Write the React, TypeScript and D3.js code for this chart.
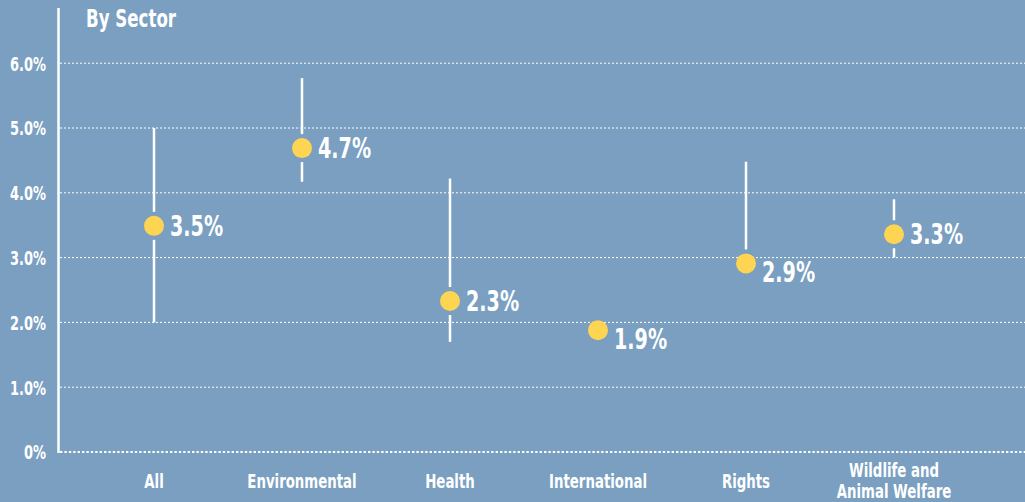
import React from "react";
import * as d3 from "d3";

const categories = ["All", "Environmental", "Health", "International", "Rights", "Wildlife and|Animal Welfare"];
const values = [3.49, 4.69, 2.33, 1.88, 2.91, 3.36];
const valueLabels = ["3.5%", "4.7%", "2.3%", "1.9%", "2.9%", "3.3%"];
const lows: (number | null)[] = [2.0, 4.17, 1.7, null, 2.91, 3.0];
const highs: (number | null)[] = [5.0, 5.77, 4.22, null, 4.48, 3.9];
const labelBelow = [false, false, false, true, true, false];
const yTicks = [0, 1, 2, 3, 4, 5, 6];

const W = 1025, H = 502;
const BG = "#7a9fc1";
const DOT = "#fed553";
const FONT = "'DejaVu Sans Condensed', 'Liberation Sans Narrow', sans-serif";

const sx = (x0: number, s: number) => `translate(${x0},0) scale(${s},1) translate(${-x0},0)`;

export default function App() {
  const x = d3.scaleBand<number>().domain(d3.range(categories.length)).range([80, 968]);
  const y = d3.scaleLinear().domain([0, 6]).range([452, 63.2]);
  const cx = (i: number) => (x(i) as number) + x.bandwidth() / 2;
  const r = 10;
  const gap = 14;

  return (
    <svg width={W} height={H} style={{ position: "absolute", left: 0, top: 0, display: "block" }} fontFamily={FONT}>
      <rect x={0} y={0} width={W} height={H} fill={BG} />
      <text x={86} y={27.5} fill="#fff" fontSize={25} fontWeight="bold" transform={sx(86, 0.74)}>By Sector</text>
      {yTicks.map((t) => (
        <g key={t}>
          {t > 0 ? (
            <line x1={60} x2={W} y1={y(t)} y2={y(t)} stroke="#fff" strokeWidth={1} strokeDasharray="2,2" />
          ) : (
            <line x1={60} x2={W} y1={y(t)} y2={y(t)} stroke="#fff" strokeWidth={2.2} strokeDasharray="2.4,2" />
          )}
          <text x={46} y={y(t) + 7.5} fill="#fff" fontSize={19.5} fontWeight="bold" textAnchor="end"
            transform={sx(46, 0.74)}>
            {t === 0 ? "0%" : `${t.toFixed(1)}%`}
          </text>
        </g>
      ))}
      <line x1={58.5} x2={58.5} y1={8} y2={453} stroke="#fff" strokeWidth={2.5} />
      {categories.map((c, i) => {
        const lo = lows[i], hi = highs[i];
        const vy = y(values[i]);
        return (
          <g key={c}>
            {hi !== null && y(hi) < vy - gap && (
              <line x1={cx(i)} x2={cx(i)} y1={y(hi)} y2={vy - gap} stroke="#fff" strokeWidth={2.5} />
            )}
            {lo !== null && y(lo) > vy + gap && (
              <line x1={cx(i)} x2={cx(i)} y1={vy + gap} y2={y(lo)} stroke="#fff" strokeWidth={2.5} />
            )}
            <circle cx={cx(i)} cy={vy} r={r} fill={DOT} />
            <text x={cx(i) + 16} y={labelBelow[i] ? vy + 18.5 : vy + 10} fill="#fff" fontSize={28} fontWeight="bold"
              transform={sx(cx(i) + 16, 0.76)}>
              {valueLabels[i]}
            </text>
            {c.split("|").map((line, k, arr) => (
              <text key={k} x={cx(i)} y={(arr.length > 1 ? 477 : 488) + k * 21} fill="#fff" fontSize={19.5} fontWeight="bold"
                textAnchor="middle" transform={sx(cx(i), 0.76)}>
                {line}
              </text>
            ))}
          </g>
        );
      })}
    </svg>
  );
}
